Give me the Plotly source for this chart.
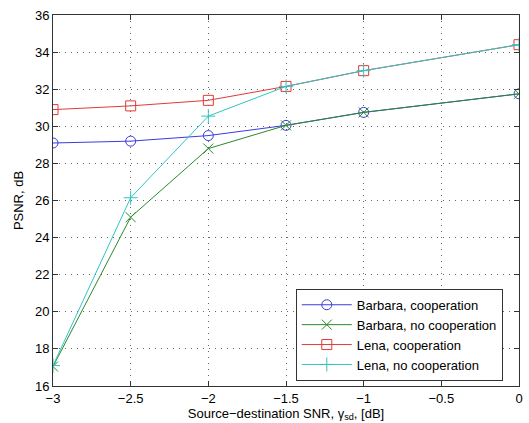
import plotly.graph_objects as go

x_snr = [-3, -2.5, -2, -1.5, -1, 0]
barbara_coop = [29.1, 29.2, 29.5, 30.05, 30.75, 31.75]
barbara_nocoop = [17.05, 25.1, 28.8, 30.05, 30.75, 31.75]
lena_coop = [30.9, 31.1, 31.4, 32.15, 33.0, 34.4]
lena_nocoop = [17.1, 26.15, 30.55, 32.15, 33.0, 34.4]

x_ticks = [-3, -2.5, -2, -1.5, -1, -0.5, 0]
x_tick_text = ["−3", "−2.5", "−2", "−1.5", "−1", "−0.5", "0"]
y_ticks = list(range(16, 37, 2))

series = [
    ("Barbara, cooperation", barbara_coop, "#3a3ae0", "circle-open"),
    ("Barbara, no cooperation", barbara_nocoop, "#2a8a2a", "x-thin-open"),
    ("Lena, cooperation", lena_coop, "#e03a3a", "square-open"),
    ("Lena, no cooperation", lena_nocoop, "#30c4c4", "cross-thin-open"),
]

fig = go.Figure()
for name, ys, col, sym in series:
    fig.add_trace(go.Scatter(
        x=x_snr, y=ys, name=name, mode="lines+markers",
        line=dict(color=col, width=1),
        marker=dict(symbol=sym, size=10, color=col, line=dict(color=col, width=1)),
    ))

font = dict(family="Liberation Sans, Arial, sans-serif", size=13, color="black")
axis_common = dict(
    showline=True, linecolor="#333333", linewidth=1, mirror="ticks",
    ticks="inside", ticklen=5, tickcolor="#333333",
    showgrid=True, gridcolor="#666666", griddash="1px,5px", gridwidth=1,
    zeroline=False, tickfont=font, ticklabeloverflow="allow",
)

fig.update_layout(
    width=529, height=423,
    margin=dict(l=53, r=6, t=15, b=37),
    paper_bgcolor="white", plot_bgcolor="white",
    font=font,
    xaxis=dict(range=[-3, 0], tickvals=x_ticks, ticktext=x_tick_text,
               title=dict(text="Source−destination SNR, γ<sub>sd</sub>, [dB]", standoff=1, font=font),
               **axis_common),
    yaxis=dict(range=[16, 36], tickvals=y_ticks,
               title=dict(text="PSNR, dB", standoff=8, font=font), **axis_common),
    legend=dict(x=0.521, y=0.014, xanchor="left", yanchor="bottom",
                bgcolor="white", bordercolor="#333333", borderwidth=1,
                font=dict(family="Liberation Sans, Arial, sans-serif", size=13, color="black"),
                tracegroupgap=0, itemwidth=50),
    showlegend=True,
)

fig.write_html("out.html", config={"displayModeBar": False},
               post_script="document.body.style.margin='0';")
